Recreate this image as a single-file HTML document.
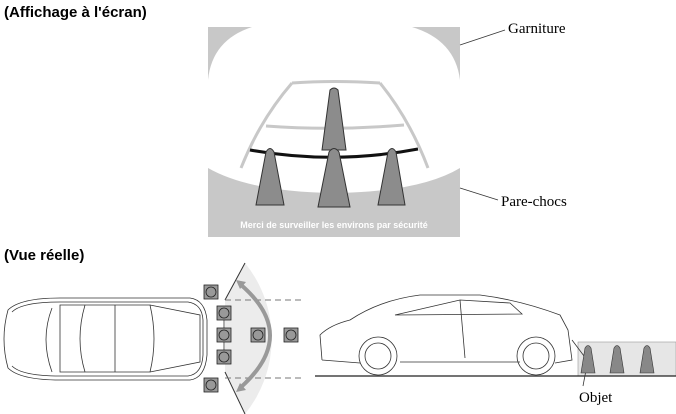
<!DOCTYPE html><html><head><style>body{margin:0;background:#fff}svg{display:block}</style></head><body>
<svg width="676" height="414" viewBox="0 0 676 414" xmlns="http://www.w3.org/2000/svg" font-family="Liberation Sans, sans-serif">
<text x="4" y="17" font-size="15" font-weight="bold">(Affichage à l'écran)</text>
<text x="4" y="260" font-size="15" font-weight="bold">(Vue réelle)</text>
<rect x="208" y="27" width="252" height="210" fill="#c8c8c8"/>
<path d="M252 27 L412 27 Q455 40 460 80 L460 168 Q420 192 334 193 Q250 192 208 168 L208 80 Q212 40 252 27 Z" fill="#fff"/>
<g fill="none" stroke="#c8c8c8" stroke-width="3">
<path d="M292 83 Q334 80 380 83"/><path d="M266 126 Q334 131 404 125"/>
<path d="M292 83 Q260 120 241 168"/><path d="M380 83 Q410 120 428 168"/>
</g>
<path d="M250 150 Q334 165 418 149" fill="none" stroke="#111" stroke-width="3"/>
<g fill="#8c8c8c" stroke="#333" stroke-width="1">
<path d="M330 90 Q334 86 338 90 L346 150 L322 150 Z"/>
<path d="M266 152 Q270 145 274 152 L284 205 L256 205 Z"/>
<path d="M329 152 Q334 145 339 152 L350 207 L318 207 Z"/>
<path d="M388 152 Q392 145 396 152 L405 205 L378 205 Z"/>
</g>
<text x="334" y="228" font-size="9" font-weight="bold" fill="#fff" text-anchor="middle">Merci de surveiller les environs par sécurité</text>
<g stroke="#333" stroke-width="0.8"><line x1="460" y1="45" x2="505" y2="30"/><line x1="460" y1="188" x2="498" y2="200"/></g>
<g font-family="Liberation Serif, serif" font-size="15"><text x="508" y="33">Garniture</text><text x="501" y="206">Pare-chocs</text><text x="579" y="402">Objet</text></g>
<path d="M225 300 L245 263 A120 120 0 0 1 245 414 L225 372 Z" fill="#ececec"/>
<line x1="225" y1="300" x2="245" y2="263" stroke="#333"/><line x1="225" y1="372" x2="245" y2="414" stroke="#333"/>
<g stroke="#777" stroke-dasharray="6,4"><line x1="225" y1="300" x2="302" y2="300"/><line x1="225" y1="378" x2="302" y2="378"/></g>
<path d="M240 284 Q300 335 240 388" fill="none" stroke="#999" stroke-width="4"/>
<path d="M236 280 l10 2 l-6 7 z M236 392 l10 -2 l-6 -7z" fill="#999"/>
<g stroke="#333" fill="none" stroke-width="0.8">
<path d="M8 310 Q20 298 60 298 L190 298 Q205 300 207 320 L207 355 Q205 378 190 380 L60 380 Q20 380 8 368 Q0 339 8 310Z"/>
<path d="M12 312 Q22 302 60 302 L188 302 Q202 304 203 320 L203 355 Q202 374 188 376 L60 376 Q22 376 12 366"/>
<path d="M60 305 L150 305 L200 315 L200 362 L150 372 L60 372 Z"/><path d="M52 308 Q40 339 52 372"/>
<path d="M85 305 Q75 339 85 372 M150 305 Q158 339 150 372 M115 305 L115 372"/>
<line x1="224" y1="313" x2="224" y2="357"/>
</g>
<g fill="#999" stroke="#222" stroke-width="0.8">
<rect x="204" y="285" width="14" height="14"/><rect x="217" y="306" width="14" height="14"/><rect x="217" y="328" width="14" height="14"/><rect x="217" y="350" width="14" height="14"/><rect x="204" y="378" width="14" height="14"/><rect x="251" y="328" width="14" height="14"/><rect x="284" y="328" width="14" height="14"/>
<circle cx="211" cy="292" r="5"/><circle cx="224" cy="313" r="5"/><circle cx="224" cy="335" r="5"/><circle cx="224" cy="357" r="5"/><circle cx="211" cy="385" r="5"/><circle cx="258" cy="335" r="5"/><circle cx="291" cy="335" r="5"/>
</g>
<rect x="578" y="342" width="98" height="34" fill="#e6e6e6" stroke="#999" stroke-width="0.6"/>
<line x1="315" y1="376" x2="676" y2="376" stroke="#222" stroke-width="1.2"/>
<g fill="none" stroke="#333" stroke-width="0.8">
<path d="M322 360 L320 335 Q330 325 350 320 Q380 300 420 295 L480 295 Q520 300 560 315 L568 330 L572 360 L555 363 M520 362 L400 362 M360 363 L322 360"/>
<circle cx="378" cy="356" r="19"/><circle cx="378" cy="356" r="13"/>
<circle cx="536" cy="356" r="19"/><circle cx="536" cy="356" r="13"/>
<path d="M395 315 L460 300 L510 303 L522 314 Z M460 300 L465 358"/>
<line x1="572" y1="340" x2="587" y2="360"/><line x1="587" y1="365" x2="583" y2="386"/>
</g>
<g fill="#888" stroke="#333" stroke-width="0.6">
<path d="M585 348 Q588 343 591 348 L595 373 L581 373 Z"/><path d="M614 348 Q617 343 620 348 L624 373 L610 373 Z"/><path d="M644 348 Q647 343 650 348 L654 373 L640 373 Z"/>
</g>
</svg></body></html>
